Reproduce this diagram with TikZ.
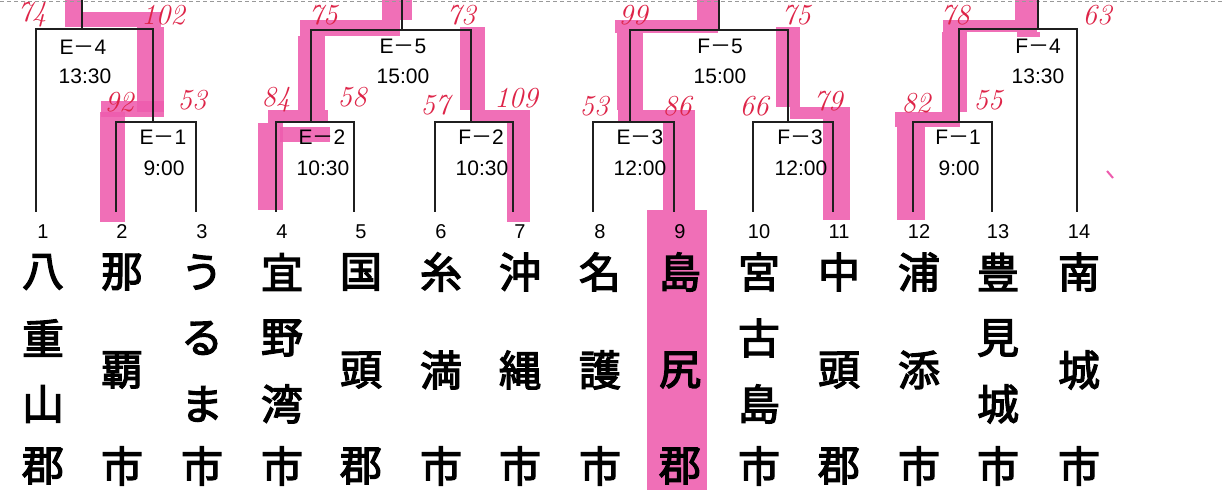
\documentclass[tikz,border=0pt]{standalone}
\usepackage{fontspec}
\newfontfamily\lab{Liberation Sans}
\newfontfamily\cjk{Noto Sans CJK JP}[FakeBold=3]
\newfontfamily\cjkd{Noto Sans CJK JP}
\newcommand\dsh{{\cjkd －}}
\definecolor{hl}{RGB}{238,92,174}
\definecolor{pen}{RGB}{222,36,72}
\tikzset{
  br/.style={line width=1.8pt, black!88},
  lab/.style={font=\lab\fontsize{21}{21}\selectfont, inner sep=0pt},
  num/.style={font=\lab\fontsize{20}{20}\selectfont, inner sep=0pt},
  kj/.style={font=\cjk\fontsize{42}{42}\selectfont, inner sep=0pt},
  sc/.style={font=\itshape\fontsize{29}{29}\selectfont, text=pen, inner sep=0pt},
  hlf/.style={fill=hl, fill opacity=0.88},
}
\begin{document}
\begin{tikzpicture}[x=1pt,y=-1pt]
\useasboundingbox (0,0) rectangle (1224,494);
\fill[white] (0,0) rectangle (1224,494);

% ---------- highlighter ----------
% team 2 -> E-1 -> E-4
\fill[hlf] (100,112) rectangle (125,222);
\fill[hlf] (101,101) rectangle (164,117);
\fill[hlf] (137,27) rectangle (164,112);
\fill[hlf] (65,12) rectangle (161,27);
\fill[hlf] (65,0) rectangle (82,12);
% team 4 -> E-2 -> E-5
\fill[hlf] (258,123) rectangle (283,210);
\fill[hlf] (268,110) rectangle (328,123);
\fill[hlf] (280,127) rectangle (330,142);
\fill[hlf] (298,36) rectangle (325,110);
\fill[hlf] (300,20) rectangle (400,36);
\fill[hlf] (382,0) rectangle (412,20);
% team 7 -> F-2
\fill[hlf] (507,123) rectangle (530,222);
\fill[hlf] (472,110) rectangle (530,123);
\fill[hlf] (460,27) rectangle (485,110);
% team 9 -> E-3 -> F-5
\fill[hlf] (647,210) rectangle (707,490);
\fill[hlf] (663,122) rectangle (695,210);
\fill[hlf] (618,110) rectangle (695,122);
\fill[hlf] (617,33) rectangle (643,110);
\fill[hlf] (615,20) rectangle (718,33);
\fill[hlf] (697,0) rectangle (718,20);
% team 11 -> F-3
\fill[hlf] (823,119) rectangle (850,220);
\fill[hlf] (790,107) rectangle (850,119);
\fill[hlf] (776,27) rectangle (800,107);
% team 12 -> F-1 -> F-4
\fill[hlf] (897,127) rectangle (925,220);
\fill[hlf] (895,112) rectangle (960,127);
\fill[hlf] (942,32) rectangle (967,112);
\fill[hlf] (943,20) rectangle (1037,32);
\fill[hlf] (1015,0) rectangle (1037,20);
\fill[hlf] (1017,32) rectangle (1040,37);
% stray mark
\draw[hl, line width=2pt] (1107,171) -- (1113,178);

% ---------- top dashed edge ----------
\coordinate (dl) at (0,1);
\coordinate (dr) at (1224,1);
\draw[black!40, line width=0.9pt, dash pattern=on 4pt off 3pt] (dl) -- (dr);

% ---------- leaves ----------
\foreach \i/\x in {1/36,2/116,3/196,4/276,5/354,6/435,7/513,8/593,9/674,10/753,11/833,12/913,13/992,14/1077}
  \coordinate (t\i) at (\x,212);

% ---------- match junctions ----------
\coordinate (E1) at (153,122);
\coordinate (E2) at (311,122);
\coordinate (F2) at (471,122);
\coordinate (E3) at (630,122);
\coordinate (F3) at (788,122);
\coordinate (F1) at (959,122);
\coordinate (E4) at (82,29);
\coordinate (E5) at (402,30);
\coordinate (F5) at (719,30);
\coordinate (F4) at (1038,29);
\coordinate (E4t) at (82,0);
\coordinate (E5t) at (402,0);
\coordinate (F5t) at (719,0);
\coordinate (F4t) at (1038,0);

% ---------- bracket lines ----------
\draw[br] (t2) |- (E1) -| (t3);
\draw[br] (t1) |- (E4) -| (E1);
\draw[br] (t4) |- (E2) -| (t5);
\draw[br] (t6) |- (F2) -| (t7);
\draw[br] (E2) |- (E5) -| (F2);
\draw[br] (t8) |- (E3) -| (t9);
\draw[br] (t10) |- (F3) -| (t11);
\draw[br] (E3) |- (F5) -| (F3);
\draw[br] (t12) |- (F1) -| (t13);
\draw[br] (F1) |- (F4) -| (t14);
\draw[br] (E4) -- (E4t);
\draw[br] (E5) -- (E5t);
\draw[br] (F5) -- (F5t);
\draw[br] (F4) -- (F4t);

% ---------- match labels ----------
\node[lab] (lE4) at (83,47) {E\dsh 4};
\node[lab] (hE4) at (85,76) {13:30};
\node[lab] (lE1) at (163,137) {E\dsh 1};
\node[lab] (hE1) at (164,168) {9:00};
\node[lab] (lE2) at (322,137) {E\dsh 2};
\node[lab] (hE2) at (323,168) {10:30};
\node[lab] (lE5) at (403,46) {E\dsh 5};
\node[lab] (hE5) at (403,76) {15:00};
\node[lab] (lF2) at (481,137) {F\dsh 2};
\node[lab] (hF2) at (482,168) {10:30};
\node[lab] (lE3) at (640,137) {E\dsh 3};
\node[lab] (hE3) at (640,168) {12:00};
\node[lab] (lF5) at (720,46) {F\dsh 5};
\node[lab] (hF5) at (720,76) {15:00};
\node[lab] (lF3) at (800,137) {F\dsh 3};
\node[lab] (hF3) at (801,168) {12:00};
\node[lab] (lF1) at (958,137) {F\dsh 1};
\node[lab] (hF1) at (959,168) {9:00};
\node[lab] (lF4) at (1038,46) {F\dsh 4};
\node[lab] (hF4) at (1038,76) {13:30};

% ---------- handwritten scores ----------
\node[sc] (s1) at (32,15) {74};
\node[sc] (s2) at (163,15) {102};
\node[sc] (s3) at (119,102) {92};
\node[sc] (s4) at (192,100) {53};
\node[sc] (s5) at (276,100) {84};
\node[sc] (s6) at (352,97) {58};
\node[sc] (s7) at (323,15) {75};
\node[sc] (s8) at (461,15) {73};
\node[sc] (s9) at (435,105) {57};
\node[sc] (s10) at (516,98) {109};
\node[sc] (s11) at (594,106) {53};
\node[sc] (s12) at (677,106) {86};
\node[sc] (s13) at (633,15) {99};
\node[sc] (s14) at (796,15) {75};
\node[sc] (s15) at (754,106) {66};
\node[sc] (s16) at (828,101) {79};
\node[sc] (s17) at (916,103) {82};
\node[sc] (s18) at (988,100) {55};
\node[sc] (s19) at (955,15) {78};
\node[sc] (s20) at (1097,15) {63};

% ---------- numbers ----------
\foreach \i/\x in {1/43,2/122,3/202,4/282,5/361,6/441,7/520,8/600,9/680,10/759,11/839,12/919,13/998,14/1079}
  \node[num] (n\i) at (\x,232) {\i};

% ---------- team names ----------
\foreach \i/\x/\a/\b/\c/\d in {1/43/八/重/山/郡, 3/202/う/る/ま/市, 4/282/宜/野/湾/市, 10/759/宮/古/島/市, 13/998/豊/見/城/市}{
  \node[kj] (k\i-a) at (\x,272) {\a};
  \node[kj] (k\i-b) at (\x,338) {\b};
  \node[kj] (k\i-c) at (\x,404) {\c};
  \node[kj] (k\i-d) at (\x,466) {\d};
}
\foreach \i/\x/\a/\b/\c in {2/122/那/覇/市, 5/361/国/頭/郡, 6/441/糸/満/市, 7/520/沖/縄/市, 8/600/名/護/市, 9/680/島/尻/郡, 11/839/中/頭/郡, 12/919/浦/添/市, 14/1079/南/城/市}{
  \node[kj] (k\i-a) at (\x,272) {\a};
  \node[kj] (k\i-b) at (\x,370) {\b};
  \node[kj] (k\i-c) at (\x,466) {\c};
}
\end{tikzpicture}
\end{document}
